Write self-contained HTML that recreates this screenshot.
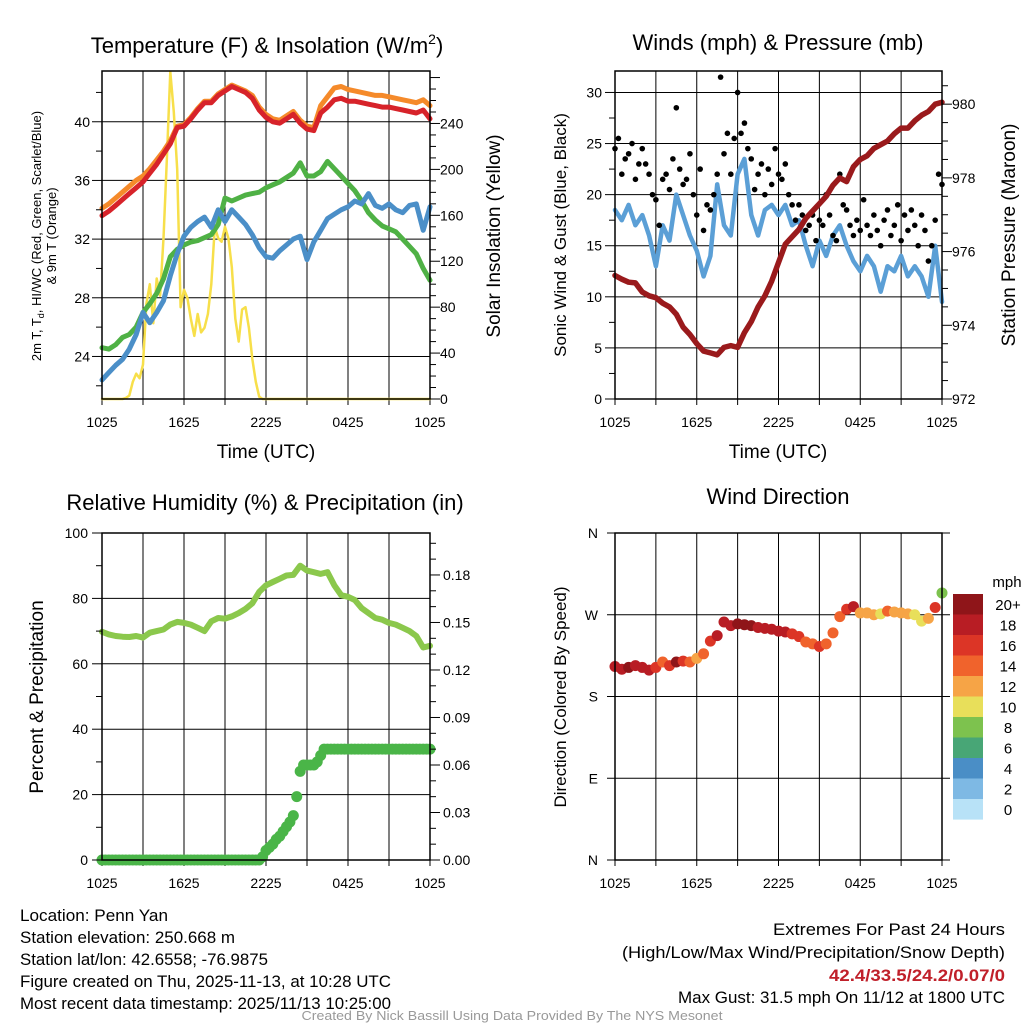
<!DOCTYPE html>
<html><head><meta charset="utf-8"><style>
html,body{margin:0;padding:0;background:#fff;}
svg{display:block;font-family:"Liberation Sans",sans-serif;}
.n{font-family:"Liberation Sans Narrow","Liberation Sans",sans-serif;}
</style></head><body>
<svg id="c" width="1024" height="1024" viewBox="0 0 1024 1024" xmlns="http://www.w3.org/2000/svg">
<rect x="0" y="0" width="1024" height="1024" fill="#fff"/>
<g id="grids"></g>
<g id="marks"></g>
<g id="axes"></g>
<text x="267" y="53" font-size="22" text-anchor="middle">Temperature (F) &amp; Insolation (W/m<tspan font-size="14" dy="-9">2</tspan><tspan dy="9">)</tspan></text>
<text x="778" y="50" font-size="22" text-anchor="middle">Winds (mph) &amp; Pressure (mb)</text>
<text x="265" y="510" font-size="22" text-anchor="middle">Relative Humidity (%) &amp; Precipitation (in)</text>
<text x="778" y="504" font-size="22" text-anchor="middle">Wind Direction</text>
<text x="266" y="458" font-size="19" text-anchor="middle">Time (UTC)</text>
<text x="778" y="458" font-size="19" text-anchor="middle">Time (UTC)</text>
<text transform="translate(41,236) rotate(-90)" font-size="13" text-anchor="middle">2m T, T<tspan font-size="9" dy="3">d</tspan><tspan dy="-3">, HI/WC (Red, Green, Scarlet/Blue)</tspan></text>
<text transform="translate(56,236) rotate(-90)" font-size="13" text-anchor="middle">&amp; 9m T (Orange)</text>
<text transform="translate(500,236) rotate(-90)" font-size="19" text-anchor="middle">Solar Insolation (Yellow)</text>
<text transform="translate(566,235) rotate(-90)" font-size="17" text-anchor="middle">Sonic Wind &amp; Gust (Blue, Black)</text>
<text transform="translate(1015,235) rotate(-90)" font-size="19" text-anchor="middle">Station Pressure (Maroon)</text>
<text transform="translate(43,697) rotate(-90)" font-size="19" text-anchor="middle">Percent &amp; Precipitation</text>
<text transform="translate(566,697) rotate(-90)" font-size="17" text-anchor="middle">Direction (Colored By Speed)</text>
<g class="n" font-size="17">
<text x="20" y="921" textLength="148" lengthAdjust="spacingAndGlyphs">Location: Penn Yan</text>
<text x="20" y="943" textLength="215" lengthAdjust="spacingAndGlyphs">Station elevation: 250.668 m</text>
<text x="20" y="965" textLength="248" lengthAdjust="spacingAndGlyphs">Station lat/lon: 42.6558; -76.9875</text>
<text x="20" y="987" textLength="371" lengthAdjust="spacingAndGlyphs">Figure created on Thu, 2025-11-13, at 10:28 UTC</text>
<text x="20" y="1009" textLength="371" lengthAdjust="spacingAndGlyphs">Most recent data timestamp: 2025/11/13 10:25:00</text>
</g>
<g class="n" font-size="17" text-anchor="end">
<text x="1005" y="935" textLength="232" lengthAdjust="spacingAndGlyphs">Extremes For Past 24 Hours</text>
<text x="1005" y="958" textLength="383" lengthAdjust="spacingAndGlyphs">(High/Low/Max Wind/Precipitation/Snow Depth)</text>
<text x="1005" y="981" fill="#c0202a" font-weight="bold" textLength="176" lengthAdjust="spacingAndGlyphs">42.4/33.5/24.2/0.07/0</text>
<text x="1005" y="1003" textLength="327" lengthAdjust="spacingAndGlyphs">Max Gust: 31.5 mph On 11/12 at 1800 UTC</text>
</g>
<text class="n" x="512" y="1020" font-size="13" fill="#999" text-anchor="middle" textLength="421" lengthAdjust="spacingAndGlyphs">Created By Nick Bassill Using Data Provided By The NYS Mesonet</text>
<g id="legend"></g>
</svg>
<script>
// ---- data (time step 0.5h unless noted; 0..24 h from 1025 UTC) ----
const xLabels = ["1025","1625","2225","0425","1025"];
const tempRed = [33.6,33.9,34.3,34.7,35.1,35.5,35.9,36.5,37.1,37.8,38.5,39.6,39.7,40.2,40.8,41.3,41.3,41.8,42.1,42.4,42.2,42.0,41.6,40.8,40.3,40.0,39.9,40.2,40.5,39.9,39.5,39.4,40.6,41.0,41.5,41.6,41.4,41.4,41.3,41.2,41.1,41.0,41.0,40.9,40.8,40.7,40.6,40.8,40.2];
const tempOrange = [34.1,34.4,34.8,35.2,35.6,36.0,36.3,36.8,37.4,38.0,38.7,39.7,39.8,40.3,40.9,41.4,41.4,41.9,42.2,42.5,42.3,42.1,41.8,41.0,40.5,40.2,40.1,40.4,40.7,40.1,39.7,39.6,41.1,41.7,42.3,42.4,42.2,42.1,42.0,41.9,41.8,41.8,41.7,41.6,41.5,41.4,41.3,41.5,41.1];
const dewGreen = [24.6,24.5,24.8,25.3,25.5,26.0,27.0,27.6,28.3,29.3,30.8,31.3,31.6,31.8,31.9,32.1,32.3,33.0,34.8,34.6,34.8,35.0,35.1,35.2,35.5,35.7,35.9,36.2,36.5,37.2,36.3,36.3,36.6,37.3,36.8,36.3,35.8,35.3,34.6,33.8,33.3,32.9,32.7,32.5,32.0,31.5,31.0,30.0,29.2];
const chillBlue = [22.4,22.9,23.4,23.8,24.5,25.5,27.0,26.3,27.0,27.8,29.5,31.0,32.2,32.8,33.2,33.5,32.8,34.0,33.2,34.0,33.5,33.0,32.3,31.4,30.8,30.7,31.2,31.6,32.0,32.2,30.6,31.8,32.6,33.4,33.7,34.0,34.2,34.6,34.4,35.1,34.3,34.1,34.4,34.0,33.8,34.3,34.4,32.6,34.2];
// solar, 0.25h step
const solar = [0,0,0,0,0,0,0,1,3,15,22,18,30,83,100,66,105,90,140,210,285,250,200,80,95,88,70,55,74,58,62,74,100,150,140,137,150,140,115,70,50,78,80,62,35,15,2,0,0,0,0,0,0,0,0,0,0,0,0,0,0,0,0,0,0,0,0,0,0,0,0,0,0,0,0,0,0,0,0,0,0,0,0,0,0,0,0,0,0,0,0,0,0,0,0,0,0];
const windBlue = [18.5,17.5,19,17,18,16,13,17,15.5,20,18,16,14.5,12,14,21,17,16,22,23.5,18,16,18.5,19,18,19,17,17.5,15,13,15.5,14,16,17,15,13.5,12.5,14,13,10.5,13,12.5,14,12,13,12,10,15,9.5];
// gusts, 0.25h step
const gusts = [24.5,25.5,22,23.5,24,25,21.5,23,24.5,23,22,20,19.5,17,21.5,22,20.5,23.5,28.5,22.5,21,21.5,24,20,18,22.5,16.5,19,18.5,20,22,31.5,24,26,22,25.5,30,26,27,24.5,23.5,20.5,22,23,20,22.5,21,24.5,22,21.5,23,20,19,17.5,19,18,16.5,17,18,15.5,17.5,17,20,18,16,15.5,22,19,18.5,17,16,17.5,16.5,19.5,17,16,18,16.5,15,17.5,18.5,16,17,19,15.5,18,16.5,18.5,17,15,18,16.5,13.5,15,17.5,22,21];
const pressure = [975.35,975.25,975.17,975.15,974.9,974.8,974.75,974.6,974.5,974.3,973.95,973.75,973.5,973.3,973.25,973.2,973.4,973.45,973.4,973.8,974.1,974.5,974.8,975.2,975.7,976.2,976.4,976.6,976.9,977.1,977.3,977.5,977.8,978.0,977.9,978.3,978.5,978.6,978.8,978.9,979.0,979.2,979.35,979.35,979.55,979.7,979.8,980.0,980.05];
const rh = [69.8,69,68.5,68.3,68.2,68.5,68,69.5,70,70.5,72,72.8,72.5,72,71,70,73,74,73.8,74.5,75.5,76.8,78.5,82,84,85,86,87,87.2,90,88.5,88,87.5,88,84,81,80.5,79.5,77,75.5,74,73.5,72.5,72,71,70,68.5,65,65.5];
// precip, 0.25h step
const precip = [0,0,0,0,0,0,0,0,0,0,0,0,0,0,0,0,0,0,0,0,0,0,0,0,0,0,0,0,0,0,0,0,0,0,0,0,0,0,0,0,0,0,0,0,0,0,0,0.002,0.006,0.008,0.01,0.013,0.015,0.018,0.021,0.024,0.028,0.04,0.056,0.06,0.06,0.06,0.06,0.062,0.066,0.07,0.07,0.07,0.07,0.07,0.07,0.07,0.07,0.07,0.07,0.07,0.07,0.07,0.07,0.07,0.07,0.07,0.07,0.07,0.07,0.07,0.07,0.07,0.07,0.07,0.07,0.07,0.07,0.07,0.07,0.07,0.07];
const windDir = [213,210,212,214,212,209,212,218,214,218,219,218,222,227,241,247,262,258,260,259,258,256,255,254,252,251,249,246,240,238,235,238,250,268,276,279,272,272,270,271,274,273,272,271,270,263,266,278,294];
const windSpd = [19,19,20,19,19,18,16,15,17,20,17,15,12,14,17,18,19,18,20,21,20,19,19,18,18,18,17,16,15,14,17,15,14,15,17,18,13,12,13,11,14,13,12,13,11,10,13,16,8];
const legendLabels = ["20+","18","16","14","12","10","8","6","4","2","0"];
const legendColors = ["#8f1519","#b81d24","#dc3526","#f0632c","#f6a446","#e8df5a","#7dc24e","#48a676","#4a8ec6","#7eb9e4","#b8e2f7"];

const NS="http://www.w3.org/2000/svg";
const G=document.getElementById('grids'),M=document.getElementById('marks'),A=document.getElementById('axes'),L=document.getElementById('legend');
function mk(tag,attrs,parent){const e=document.createElementNS(NS,tag);for(const k in attrs)e.setAttribute(k,attrs[k]);parent.appendChild(e);return e;}

const P1={x0:102,x1:430,y0:71,y1:399}, P2={x0:615,x1:942,y0:71,y1:399}, P3={x0:102,x1:430,y0:533,y1:860}, P4={x0:615,x1:942,y0:533,y1:860};
function xs(P,h){return P.x0+h*(P.x1-P.x0)/24;}
function lin(P,lo,hi){return v=>P.y1-(v-lo)*(P.y1-P.y0)/(hi-lo);}
const yT=lin(P1,21.1,43.46), yS=lin(P1,0,285.7), yW=lin(P2,0,32.1), yP=lin(P2,972,980.9), yR=lin(P3,0,100), yPr=lin(P3,0,0.2065), yD=lin(P4,0,360);

function frame(P,name){
  for(let i=0;i<=8;i++){const x=xs(P,i*3);
    const l=mk('line',{x1:x,x2:x,y1:P.y0,y2:P.y1+6,stroke:'#000','stroke-width':1},G);
    
    
    if(i%2===0){const t=mk('text',{x:x,y:P.y1+28,'font-size':14,'text-anchor':'middle'},A);t.textContent=xLabels[i/2];
      
      }
  }
  const r=mk('rect',{x:P.x0,y:P.y0,width:P.x1-P.x0,height:P.y1-P.y0,fill:'none',stroke:'#000','stroke-width':1.5},A);
  
  
}
function hgrid(P,y,name,ext){const l=mk('line',{x1:P.x0-(ext||0),x2:P.x1+(ext||0),y1:y,y2:y,stroke:'#000','stroke-width':1},G);
  
  }
function ticks(P,side,scale,lo,hi,step,minor,fmt,name,lx,labMax){
  const x=side==='l'?P.x0:P.x1, d=side==='l'?-1:1;
  for(let v=lo;v<=hi+1e-9;v+=minor){const y=scale(v);if(y<P.y0-0.5||y>P.y1+0.5)continue;
    const isMaj=Math.abs(v/step-Math.round(v/step))<1e-6;
    mk('line',{x1:x,x2:x+d*(isMaj?10:6),y1:y,y2:y,stroke:'#000','stroke-width':1},A);
    if(isMaj&&(labMax===undefined||v<=labMax)){const t=mk('text',{x:lx,y:y+5,'font-size':14,'text-anchor':side==='l'?'end':'start'},A);t.textContent=fmt(v);
      
      }
  }
}
function line(P,arr,scale,color,w,name){
  const n=arr.length;let d='';arr.forEach((v,i)=>{d+=(i?'L':'M')+xs(P,i*24/(n-1)).toFixed(1)+','+scale(v).toFixed(1);});
  const p=mk('path',{d:d,fill:'none',stroke:color,'stroke-width':w,'stroke-linejoin':'round','stroke-linecap':'round'},M);
  
  
}
function dots(P,arr,scale,color,r,name){
  const n=arr.length;arr.forEach((v,i)=>{
    const c=mk('circle',{cx:xs(P,i*24/(n-1)),cy:scale(v),r:r,fill:typeof color==='function'?color(i):color},M);
    
    
  });
}

// Panel 1
[24,28,32,36,40].forEach(v=>hgrid(P1,yT(v),'temp'));
frame(P1,'temp');
ticks(P1,'l',yT,22,42,4,2,v=>v,'temp-y',90);
ticks(P1,'r',yS,0,280,40,10,v=>v,'solar-y',440,240);
line(P1,solar,yS,'#f7df4a',2.5,'solar-insolation-line');
line(P1,dewGreen,yT,'#4fb145',5,'dewpoint-line');
line(P1,chillBlue,yT,'#4b8fc8',5,'wind-chill-line');
line(P1,tempOrange,yT,'#f58a2a',5,'temp-9m-line');
line(P1,tempRed,yT,'#d7232a',5,'temp-2m-line');

// Panel 2
[5,10,15,20,25,30].forEach(v=>hgrid(P2,yW(v),'wind'));
frame(P2,'wind');
ticks(P2,'l',yW,0,32,5,2.5,v=>v,'wind-y',602);
ticks(P2,'r',yP,972,980.5,2,0.5,v=>v,'pressure-y',952);
line(P2,windBlue,yW,'#5b9fd6',4.5,'sustained-wind-line');
dots(P2,gusts,yW,'#000',2.8,'gust-dot');
line(P2,pressure,yP,'#9a1a1c',5.5,'pressure-line');

// Panel 3
[20,40,60,80].forEach(v=>hgrid(P3,yR(v),'rh'));
frame(P3,'rh');
ticks(P3,'l',yR,0,100,20,10,v=>v,'rh-y',88);
ticks(P3,'r',yPr,0,0.2,0.03,0.01,v=>v.toFixed(2),'precip-y',443);
line(P3,rh,yR,'#8bc84c',6,'rh-line');
dots(P3,precip,yPr,'#4ab548',5.5,'precip-dot');

// Panel 4
const dirLabels=["N","E","S","W","N"];
[0,90,180,270,360].forEach((v,i)=>{hgrid(P4,yD(v),'dir',8);
  const t=mk('text',{x:598,y:yD(v)+5,'font-size':14,'text-anchor':'end'},A);t.textContent=dirLabels[i];
  
  });
frame(P4,'dir');
function spdColor(s){const idx=Math.min(10,Math.max(0,Math.floor(s/2)));return legendColors[10-idx];}
dots(P4,windDir,yD,i=>spdColor(windSpd[i]),5.5,'direction-dot');

// Legend
const mt=mk('text',{x:1007,y:587,'font-size':15,'text-anchor':'middle'},L);mt.textContent='mph';


legendLabels.forEach((lab,i)=>{
  const y=594+i*20.5;
  const r=mk('rect',{x:953,y:y,width:30,height:20.6,fill:legendColors[i]},L);
  
  
  const t=mk('text',{x:1008,y:y+16,'font-size':15,'text-anchor':'middle'},L);t.textContent=lab;
  
  
});
</script>
</body></html>
